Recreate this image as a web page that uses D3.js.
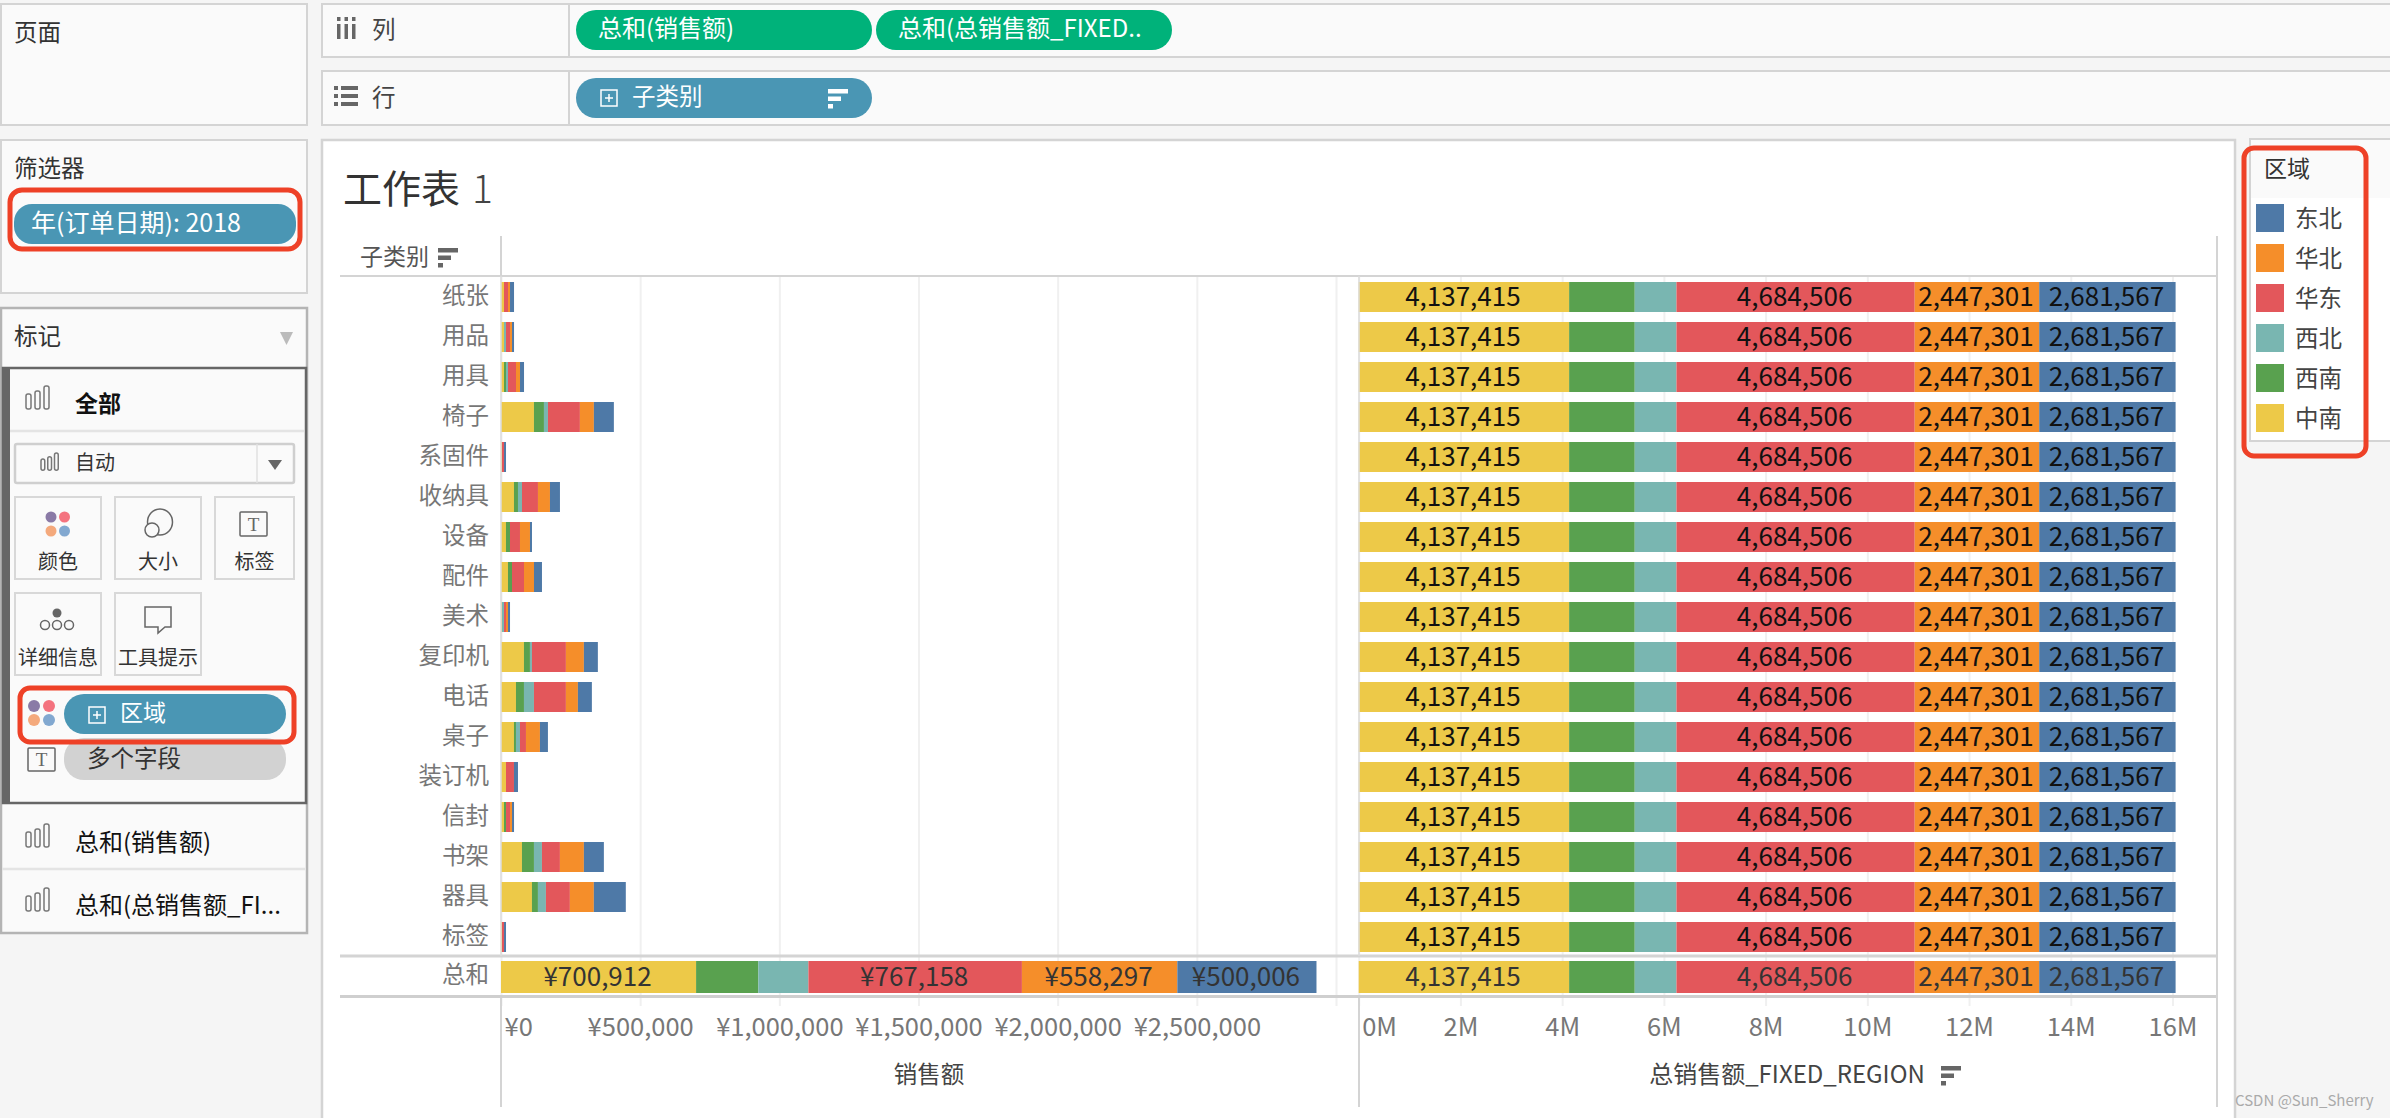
<!DOCTYPE html>
<html>
<head>
<meta charset="utf-8">
<script src="https://cdn.jsdelivr.net/npm/d3@7"></script>
<style>
  body { margin: 0; background: #f5f5f5; overflow: hidden; }
  text { font-family: "Noto Sans CJK SC", "Noto Sans", sans-serif; }
</style>
</head>
<body>
<svg id="chart" width="2390" height="1118"></svg>
<script>
const subCategories = ['纸张', '用品', '用具', '椅子', '系固件', '收纳具', '设备', '配件', '美术', '复印机', '电话', '桌子', '装订机', '信封', '书架', '器具', '标签'];
const regions = ['中南', '西南', '西北', '华东', '华北', '东北'];
const legendRegions = ['东北', '华北', '华东', '西北', '西南', '中南'];
const regionColors = ['#edc948', '#59a14f', '#79b6b1', '#e3575b', '#f58e2a', '#4e79a7'];

// 2018 sales per sub category, same order as subCategories
const salesZhongnan = [10800, 10800, 10800, 118400, 3600, 46600, 17900, 25100, 3600, 82500, 53800, 46600, 17900, 10800, 75300, 111200, 3600];
const salesXinan = [0, 0, 7200, 35900, 0, 14400, 14400, 14400, 0, 21500, 28700, 7200, 0, 7200, 43100, 21500, 0];
const salesXibei = [0, 7200, 7200, 14400, 0, 14400, 0, 0, 7200, 7200, 35900, 14400, 0, 0, 28700, 28700, 0];
const salesHuadong = [14400, 14400, 28700, 114800, 7200, 57400, 35900, 43100, 7200, 122000, 114800, 21500, 28700, 14400, 64600, 86100, 7200];
const salesHuabei = [7200, 7200, 14400, 50200, 0, 43100, 35900, 35900, 7200, 64600, 43100, 50200, 0, 7200, 86100, 86100, 0];
const salesDongbei = [14400, 7200, 14400, 71800, 7200, 35900, 7200, 28700, 7200, 50200, 50200, 28700, 14400, 7200, 71800, 114800, 7200];

const salesTotals = [700912, 223500, 180000, 767158, 558297, 500006];
const fixedTotals = [4137415, 1290000, 820000, 4684506, 2447301, 2681567];
const salesTicks = [0, 500000, 1000000, 1500000, 2000000, 2500000, 3000000];
const fixedTicks = [0, 2000000, 4000000, 6000000, 8000000, 10000000, 12000000, 14000000, 16000000];

const svg = d3.select('#chart');
const color = d3.scaleOrdinal().domain(regions).range(regionColors);
const line = '#d4d4d4';
const pillBlue = '#4a96b4';
const pillGreen = '#00b27a';
const redBox = '#ee4127';

const label = (s, x, y, size, fill, anchor, weight) =>
  svg.append('text')
    .attr('x', x).attr('y', y)
    .attr('dy', '0.35em')
    .attr('font-size', size)
    .attr('fill', fill)
    .attr('text-anchor', anchor || 'start')
    .attr('font-weight', weight || 400)
    .text(s);

const box = (x, y, w, h, fill, stroke, sw, rx) =>
  svg.append('rect')
    .attr('x', x).attr('y', y).attr('width', w).attr('height', h)
    .attr('fill', fill)
    .attr('stroke', stroke || 'none')
    .attr('stroke-width', sw || 0)
    .attr('rx', rx || 0);

const hLine = (x1, x2, y, c, sw) =>
  svg.append('line').attr('x1', x1).attr('x2', x2).attr('y1', y).attr('y2', y)
    .attr('stroke', c || line).attr('stroke-width', sw || 2);
const vLine = (x, y1, y2, c, sw) =>
  svg.append('line').attr('x1', x).attr('x2', x).attr('y1', y1).attr('y2', y2)
    .attr('stroke', c || line).attr('stroke-width', sw || 2);

const barIcon = (x, y, k) => {
  [[0, 15], [9, 18], [18, 23]].forEach(([dx, h]) => {
    box(x + dx * k, y + (23 - h) * k, 5 * k, h * k, 'none', '#777', 1.5, 2);
  });
};
const sortIcon = (x, y, c) => {
  [20, 13, 5].forEach((w, i) => box(x, y + i * 7.5, w, 4.5, c));
};
const plusIcon = (x, y, c) => {
  box(x, y, 16, 16, 'none', c, 1.5);
  hLine(x + 4, x + 12, y + 8, c, 1.5);
  vLine(x + 8, y + 4, y + 12, c, 1.5);
};
const dots = (x, y, r, dx, dy) => {
  ['#8a7aa6', '#f4737f', '#f4a97c', '#82a8d0'].forEach((c, i) => {
    svg.append('circle').attr('cx', x + (i % 2) * dx).attr('cy', y + (i > 1 ? dy : 0)).attr('r', r).attr('fill', c);
  });
};
const tIcon = (x, y, w, h) => {
  box(x, y, w, h, 'none', '#666', 1.5, 1);
  label('T', x + w / 2, y + h / 2, 19, '#666', 'middle').style('font-family', 'Liberation Serif');
};

// shelves on the left and top
box(1, 4, 306, 121, '#fafafa', line, 2);
label('页面', 14, 33, 23.5, '#333');
box(1, 140, 306, 153, '#fafafa', line, 2);
label('筛选器', 14, 169, 23.5, '#333');
box(322, 4, 2080, 53, '#fafafa', line, 2);
box(322, 71, 2080, 54, '#fafafa', line, 2);
vLine(569, 4, 57);
vLine(569, 71, 125);

[337, 344.5, 352].forEach(x => {
  box(x, 24, 3.5, 15, '#666');
  box(x, 17, 3.5, 4, '#666');
});
label('列', 372, 30, 23.5, '#444');
[86, 94, 102].forEach(y => {
  box(334, y, 4, 4, '#666');
  box(341, y, 17, 4, '#666');
});
label('行', 372, 98, 23.5, '#444');

box(576, 10, 296, 40, pillGreen, null, 0, 20);
label('总和(销售额)', 598, 29, 24, '#fff');
box(876, 10, 296, 40, pillGreen, null, 0, 20);
label('总和(总销售额_FIXED..', 898, 29, 24, '#fff');
box(576, 78, 296, 40, pillBlue, null, 0, 20);
plusIcon(601, 90, '#fff');
label('子类别', 632, 97, 23.5, '#fff');
sortIcon(828, 89, '#fff');

box(14, 204, 282, 40, pillBlue, null, 0, 18);
label('年(订单日期): 2018', 31, 223, 25, '#fff');
box(10, 190, 290, 59, 'none', redBox, 5, 12);

// marks card
box(1, 308, 306, 625, '#fafafa', '#b4b4b4', 2.5);
label('标记', 14, 337, 23.5, '#333');
svg.append('path').attr('d', 'M280,332 L293,332 L286.5,345 Z').attr('fill', '#bbb');
box(3, 368, 303, 435, '#fafafa', '#666', 2.5);
box(2, 367, 8, 437, '#666');
barIcon(26, 386, 1);
label('全部', 75, 404, 23, '#111', 'start', 700);
hLine(10, 304, 431, '#e4e4e4', 2.5);
box(15, 444, 279, 39, '#fafafa', '#cfcfcf', 2.5, 2);
vLine(257, 444, 483, '#e0e0e0', 1.5);
svg.append('path').attr('d', 'M268,460 L282,460 L275,470 Z').attr('fill', '#666');
barIcon(41, 453, 0.75);
label('自动', 75, 463, 20, '#333');

const cards = [
  [15, 497, 86, '颜色'], [115, 497, 86, '大小'], [215, 497, 79, '标签'],
  [15, 593, 86, '详细信息'], [115, 593, 86, '工具提示']
];
cards.forEach(([x, y, w, s]) => {
  box(x, y, w, 82, '#fafafa', '#d8d8d8', 2);
  label(s, x + w / 2, y + 65, 20, '#333', 'middle');
});
dots(51, 517, 5.5, 13.5, 14);
svg.append('ellipse').attr('cx', 160).attr('cy', 522).attr('rx', 12.5).attr('ry', 13).attr('fill', 'none').attr('stroke', '#666').attr('stroke-width', 1.5);
svg.append('circle').attr('cx', 152).attr('cy', 530).attr('r', 7).attr('fill', '#fafafa').attr('stroke', '#666').attr('stroke-width', 1.5);
tIcon(240, 512, 27, 24);
svg.append('circle').attr('cx', 57).attr('cy', 613).attr('r', 4.5).attr('fill', '#666');
[45, 57, 69].forEach(x => {
  svg.append('circle').attr('cx', x).attr('cy', 625).attr('r', 4.5).attr('fill', 'none').attr('stroke', '#666').attr('stroke-width', 1.5);
});
svg.append('path')
  .attr('d', 'M145,607 H171 V627 H165 L158,633 V627 H145 Z')
  .attr('fill', 'none').attr('stroke', '#666').attr('stroke-width', 1.5);

box(64, 738, 222, 42, '#d2d2d2', null, 0, 20);
label('多个字段', 87, 759, 23.5, '#333');
tIcon(28, 748, 27, 23);
dots(34, 706, 6, 15, 14);
box(64, 694, 222, 40, pillBlue, null, 0, 20);
plusIcon(89, 707, '#fff');
label('区域', 120, 713, 23, '#fff');
box(20, 688, 274, 54, 'none', redBox, 5, 10);

hLine(2, 305, 869, '#e4e4e4', 2.5);
barIcon(26, 824, 1);
label('总和(销售额)', 75, 843, 24, '#111');
barIcon(26, 888, 1);
label('总和(总销售额_FI...', 75, 906, 24, '#111');

// worksheet
box(322, 140, 1913, 1000, '#fff', line, 2.5);
label('工作表', 343, 189, 39, '#333');
label('1', 472, 189, 39, '#444').attr('font-weight', 300);
label('子类别', 360, 257, 23, '#555');
sortIcon(438, 248, '#666');

const salesX = d3.scaleLinear().domain([0, 3000000]).range([501, 1336]);
const fixedX = d3.scaleLinear().domain([0, 16000000]).range([1358.7, 2172.5]);
const rowY = d3.scaleBand().domain(subCategories).range([277, 957]).paddingInner(0.25).paddingOuter(0.125);
const totalY = d3.scaleBand().domain(['总和']).range([957, 997]).paddingInner(0).paddingOuter(0.125);

const salesFmt = d => (d === 3000000 ? '' : '¥' + d3.format(',')(d));
const fixedFmt = d => d / 1000000 + 'M';

const drawAxis = (scale, ticks, fmt) => {
  const axis = d3.axisBottom(scale).tickValues(ticks).tickFormat(fmt).tickSize(-730).tickPadding(12);
  const g = svg.append('g').attr('transform', 'translate(0,1006)').call(axis);
  g.select('.domain').remove();
  g.selectAll('.tick line').attr('stroke', '#f0f0f0').attr('stroke-width', 2);
  g.selectAll('.tick text')
    .attr('font-size', 25.5)
    .attr('fill', '#777')
    .style('font-family', '"Noto Sans CJK SC"');
  return g;
};

const salesAxis = drawAxis(salesX, salesTicks, salesFmt);
const fixedAxis = drawAxis(fixedX, fixedTicks, fixedFmt);
salesAxis.select('.tick text').attr('text-anchor', 'start').attr('x', 3);
fixedAxis.select('.tick text').attr('text-anchor', 'start').attr('x', 3);

const rows = subCategories.map((name, i) => ({
  name,
  中南: salesZhongnan[i],
  西南: salesXinan[i],
  西北: salesXibei[i],
  华东: salesHuadong[i],
  华北: salesHuabei[i],
  东北: salesDongbei[i]
}));
const toRow = (name, values) => {
  const r = { name };
  regions.forEach((k, i) => { r[k] = values[i]; });
  return r;
};
const stack = d3.stack().keys(regions);

// left pane, stacked sales per sub category and the grand total
const drawBars = (data, x, y) => {
  svg.append('g')
    .selectAll('g')
    .data(stack(data))
    .enter()
    .append('g')
    .attr('fill', d => color(d.key))
    .selectAll('rect')
    .data(d => d)
    .enter()
    .append('rect')
    .attr('x', d => x(d[0]))
    .attr('width', d => x(d[1]) - x(d[0]))
    .attr('y', d => y(d.data.name))
    .attr('height', y.bandwidth());
};

const drawLabels = (row, x, y, fmt, c) => {
  stack([row]).forEach(s => {
    if (s.key === '西南' || s.key === '西北') return;
    const d = s[0];
    label(fmt(row[s.key]), (x(d[0]) + x(d[1])) / 2 - 1, y(row.name) + y.bandwidth() / 2, 26, c, 'middle');
  });
};

drawBars(rows, salesX, rowY);
drawBars([toRow('总和', salesTotals)], salesX, totalY);
drawLabels(toRow('总和', salesTotals), salesX, totalY, d => '¥' + d3.format(',')(d), '#333');

const fixedRows = subCategories.map(name => toRow(name, fixedTotals));
drawBars(fixedRows, fixedX, rowY);
drawBars([toRow('总和', fixedTotals)], fixedX, totalY);
fixedRows.forEach(r => drawLabels(r, fixedX, rowY, d3.format(','), '#111'));
drawLabels(toRow('总和', fixedTotals), fixedX, totalY, d3.format(','), '#333');

subCategories.forEach(name => {
  label(name, 489, rowY(name) + 14, 23.5, '#777', 'end');
});
label('总和', 489, totalY('总和') + 14, 23.5, '#777', 'end');

// pane separators
hLine(340, 2217, 276, line, 2);
hLine(340, 2217, 956, line, 3);
hLine(340, 2217, 996.5, '#cfcfcf', 3);
vLine(501, 236, 276);
vLine(501, 276, 956, '#dcdcdc', 1.5);
vLine(501, 998, 1107);
vLine(1359, 276, 956, '#dcdcdc', 1.5);
vLine(1359, 998, 1107);
vLine(2217, 236, 1107);

label('销售额', 929, 1075, 23.5, '#444', 'middle');
label('总销售额_FIXED_REGION', 1787, 1075, 24, '#444', 'middle');
sortIcon(1941, 1066, '#666');

// legend
box(2250, 139, 150, 302, '#fff', line, 2);
box(2251, 140, 150, 58, '#fafafa');
label('区域', 2264, 169, 23, '#333');
legendRegions.forEach((r, i) => {
  box(2256, 204 + i * 40, 28, 28, color(r));
  label(r, 2295, 219 + i * 40, 23.5, '#444');
});
box(2244, 148, 122, 308, 'none', redBox, 5, 10);

label('CSDN @Sun_Sherry', 2235, 1101, 15, '#aaa');
</script>
</body>
</html>
